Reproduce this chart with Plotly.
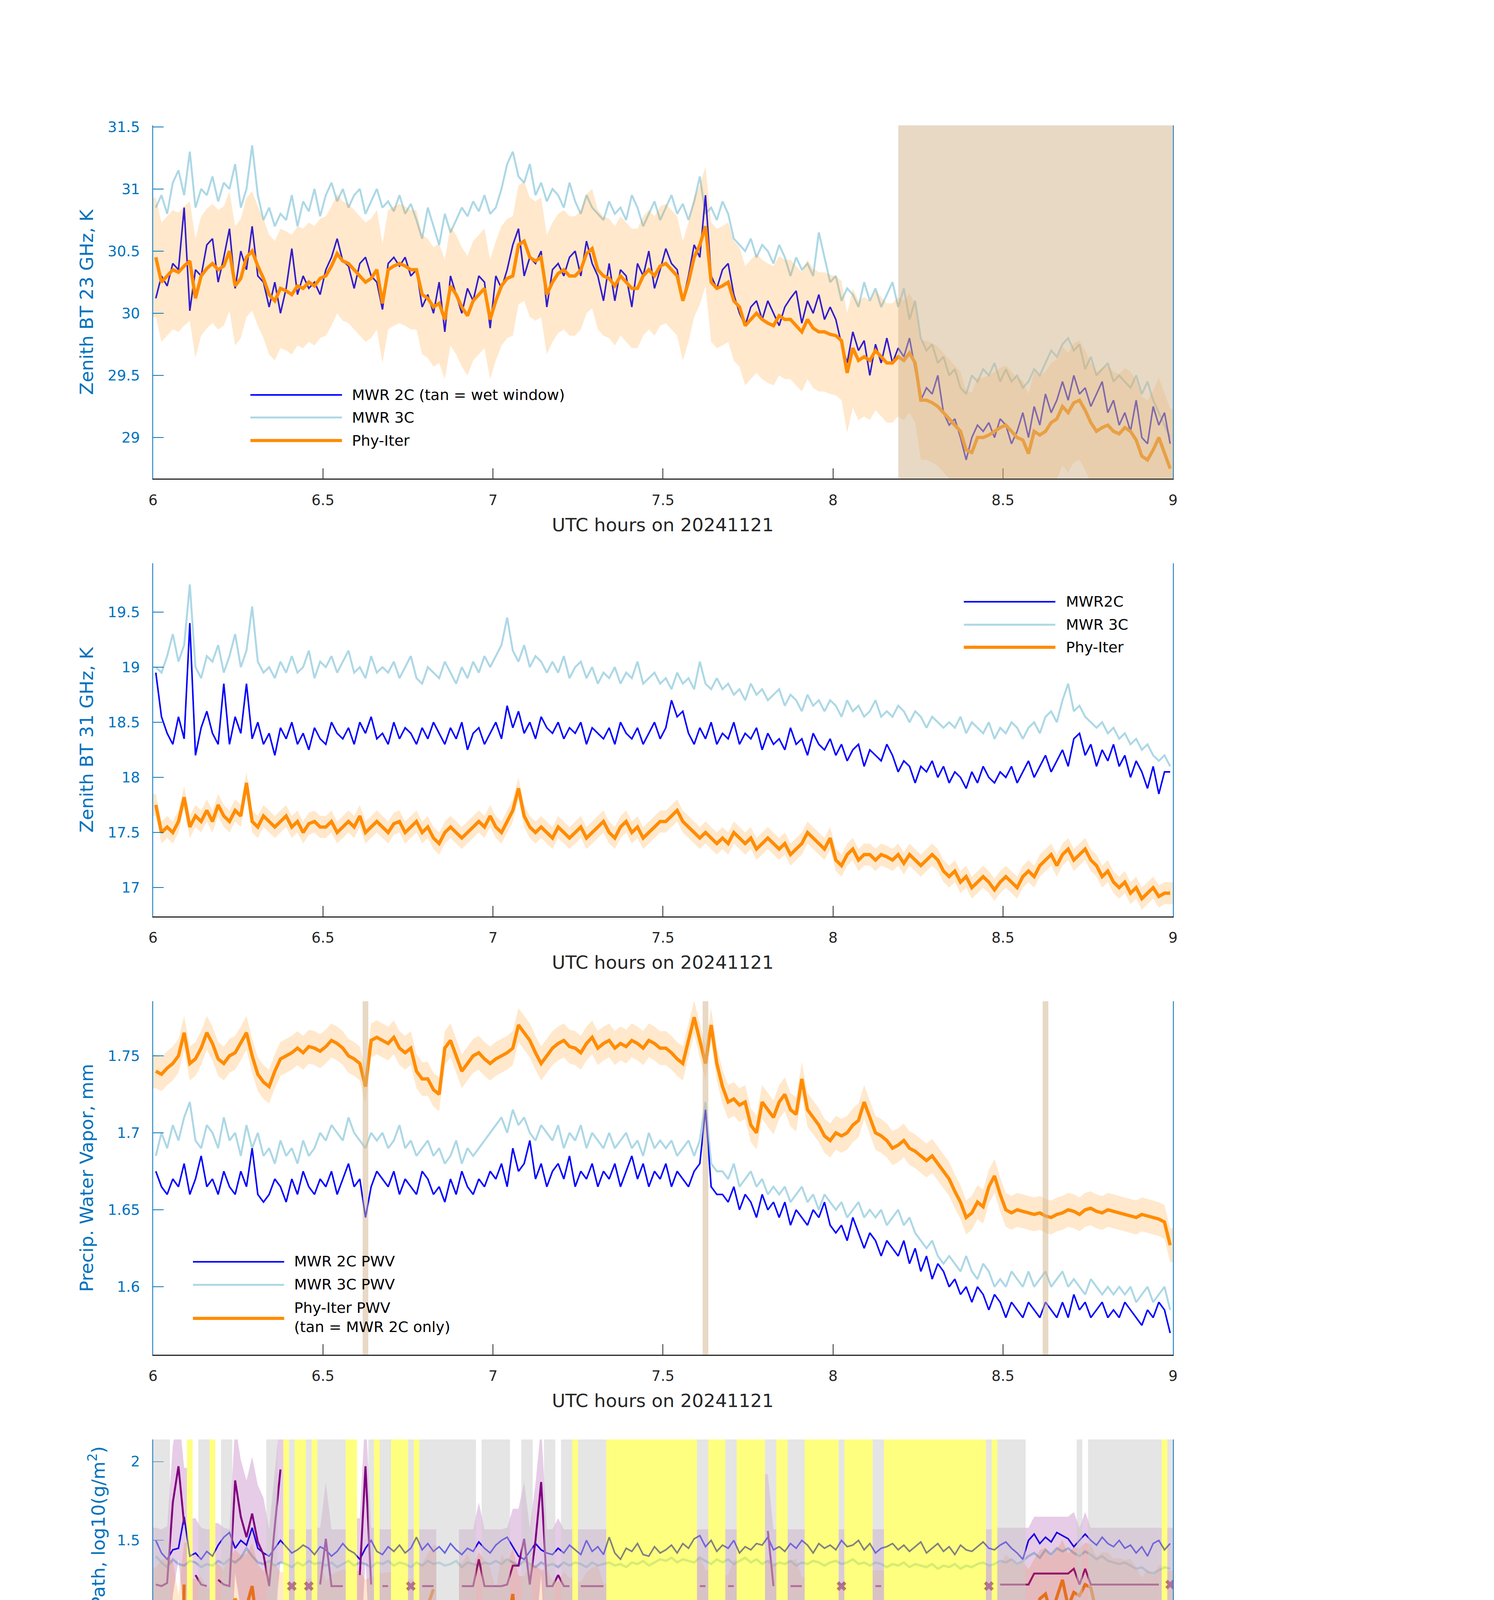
import numpy as np
import plotly.graph_objects as go

W, H = 3825, 6000

# one-minute bins 06:00-09:00 UTC on 20241121, stamped at the bin centre
t_min = 6 + (np.arange(180) + 0.5) / 60

# ---- panel 1: zenith BT 23 GHz (K)
bt23_mwr2c = [
    30.12, 30.3, 30.22, 30.4, 30.35, 30.85, 30.02, 30.35, 30.3, 30.55,
    30.6, 30.25, 30.45, 30.68, 30.2, 30.5, 30.35, 30.7, 30.3, 30.25,
    30.05, 30.25, 30.0, 30.2, 30.52, 30.15, 30.3, 30.2, 30.25, 30.15,
    30.35, 30.45, 30.6, 30.42, 30.38, 30.2, 30.4, 30.45, 30.3, 30.25,
    30.03, 30.4, 30.45, 30.38, 30.45, 30.3, 30.35, 30.05, 30.15, 30.0,
    30.25, 29.85, 30.3, 30.15, 30.0, 30.2, 30.1, 30.3, 30.25, 29.88,
    30.3, 30.2, 30.35, 30.55, 30.68, 30.3, 30.45, 30.4, 30.5, 30.05,
    30.35, 30.4, 30.3, 30.45, 30.5, 30.3, 30.58, 30.4, 30.3, 30.1,
    30.4, 30.1, 30.35, 30.3, 30.05, 30.4, 30.3, 30.5, 30.2, 30.35,
    30.52, 30.4, 30.35, 30.1, 30.3, 30.55, 30.45, 30.95, 30.3, 30.2,
    30.35, 30.4, 30.15, 30.0, 29.9, 30.05, 30.1, 29.95, 30.1, 30.0,
    29.9, 30.05, 30.12, 30.18, 29.92, 30.1, 30.0, 30.15, 29.95, 30.05,
    29.95, 29.75, 29.6, 29.85, 29.7, 29.78, 29.5, 29.75, 29.6, 29.8,
    29.6, 29.72, 29.65, 29.8, 29.55, 29.3, 29.4, 29.35, 29.5, 29.2,
    29.1, 29.15, 29.0, 28.82, 29.0, 29.1, 29.05, 29.12, 29.0, 29.15,
    29.1, 28.95, 29.05, 29.2, 29.0, 29.25, 29.1, 29.35, 29.2, 29.3,
    29.45, 29.3, 29.5, 29.35, 29.4, 29.25, 29.35, 29.45, 29.2, 29.3,
    29.1, 29.2, 29.05, 29.3, 29.0, 28.95, 29.25, 29.1, 29.2, 28.95,
]
bt23_mwr3c = [
    30.85, 30.95, 30.8, 31.05, 31.15, 30.95, 31.3, 30.85, 31.0, 30.95,
    31.1, 30.9, 31.05, 31.0, 31.2, 30.85, 31.0, 31.35, 30.95, 30.75,
    30.85, 30.7, 30.8, 30.75, 30.95, 30.7, 30.9, 30.82, 31.0, 30.78,
    30.95, 31.05, 30.9, 31.0, 30.85, 30.95, 31.0, 30.8, 30.9, 31.0,
    30.85, 30.9, 30.82, 30.95, 30.8, 30.88, 30.75, 30.6, 30.85, 30.7,
    30.55, 30.8, 30.65, 30.75, 30.85, 30.78, 30.9, 30.82, 30.95, 30.8,
    30.85, 31.0, 31.2, 31.3, 31.1, 31.05, 31.2, 30.95, 31.05, 30.9,
    31.0, 30.95, 30.85, 31.05, 30.9, 30.8, 30.95, 30.85, 30.8, 30.75,
    30.9, 30.8, 30.85, 30.75, 30.95, 30.85, 30.7, 30.8, 30.9, 30.75,
    30.85, 30.95, 30.8, 30.88, 30.75, 30.9, 31.1, 30.8, 30.85, 30.75,
    30.9, 30.8, 30.6, 30.55, 30.5, 30.6, 30.45, 30.55, 30.5, 30.4,
    30.55, 30.45, 30.3, 30.45, 30.35, 30.4, 30.3, 30.65, 30.45, 30.25,
    30.3, 30.1, 30.2, 30.15, 30.05, 30.25, 30.1, 30.2, 30.05, 30.15,
    30.25, 30.05, 30.2, 29.95, 30.1, 29.8, 29.7, 29.75, 29.6, 29.65,
    29.5, 29.55, 29.4, 29.35, 29.5, 29.45, 29.55, 29.5, 29.6, 29.45,
    29.55, 29.45, 29.5, 29.4, 29.45, 29.55, 29.5, 29.6, 29.7, 29.65,
    29.75, 29.8, 29.7, 29.75, 29.55, 29.65, 29.5, 29.55, 29.6, 29.45,
    29.5, 29.45, 29.4, 29.5, 29.35, 29.45, 29.3, 29.2, 29.1, 29.0,
]
bt23_phy = [
    30.45, 30.25, 30.3, 30.35, 30.33, 30.38, 30.42, 30.12, 30.3, 30.36,
    30.4, 30.35, 30.38, 30.5, 30.22, 30.28, 30.45, 30.5, 30.38, 30.28,
    30.15, 30.1, 30.2, 30.18, 30.15, 30.22, 30.2, 30.25, 30.22, 30.28,
    30.3, 30.38, 30.48, 30.42, 30.4, 30.35, 30.3, 30.25, 30.28, 30.35,
    30.08, 30.35, 30.38, 30.4, 30.38, 30.35, 30.35, 30.15, 30.12, 30.05,
    30.08, 29.95, 30.22, 30.15, 30.05, 29.98, 30.1, 30.15, 30.2, 29.95,
    30.1, 30.22, 30.28, 30.3, 30.55, 30.58, 30.45, 30.42, 30.45, 30.15,
    30.25, 30.32, 30.35, 30.3, 30.3, 30.35, 30.48, 30.52, 30.35, 30.3,
    30.28, 30.22, 30.3, 30.25, 30.2, 30.2, 30.3, 30.35, 30.3, 30.38,
    30.4, 30.35, 30.3, 30.1, 30.25, 30.45, 30.55, 30.7, 30.25, 30.2,
    30.22, 30.25, 30.1, 30.05, 29.9, 29.95, 30.0, 29.95, 29.92, 29.9,
    29.98, 29.95, 29.95, 29.9, 29.85, 29.95, 29.88, 29.85, 29.85, 29.83,
    29.82, 29.78, 29.52, 29.72, 29.62, 29.65, 29.62, 29.7, 29.65, 29.6,
    29.6, 29.65, 29.62, 29.68, 29.6, 29.3, 29.3, 29.28, 29.25, 29.2,
    29.15, 29.1, 29.05, 28.9, 28.88, 29.0, 29.0, 29.02, 29.05, 29.08,
    29.1, 29.05, 29.0, 28.98, 28.87, 29.05, 29.02, 29.05, 29.12, 29.15,
    29.25, 29.2, 29.28, 29.3, 29.22, 29.12, 29.05, 29.08, 29.1, 29.05,
    29.03, 29.08, 29.05, 28.98, 28.85, 28.82, 28.9, 29.0, 28.88, 28.75,
]
bt23_err = 0.48
wet_start, wet_end = 8.192, 9.008

# ---- panel 2: zenith BT 31 GHz (K)
bt31_mwr2c = [
    18.95, 18.55, 18.4, 18.3, 18.55, 18.35, 19.4, 18.2, 18.45, 18.6,
    18.4, 18.3, 18.85, 18.3, 18.55, 18.4, 18.85, 18.35, 18.5, 18.3,
    18.4, 18.2, 18.45, 18.35, 18.5, 18.3, 18.4, 18.25, 18.45, 18.35,
    18.3, 18.5, 18.4, 18.35, 18.45, 18.3, 18.5, 18.4, 18.55, 18.35,
    18.4, 18.3, 18.5, 18.35, 18.45, 18.4, 18.3, 18.45, 18.35, 18.5,
    18.4, 18.3, 18.45, 18.35, 18.5, 18.25, 18.4, 18.45, 18.3, 18.4,
    18.5, 18.35, 18.65, 18.45, 18.6, 18.4, 18.5, 18.35, 18.55, 18.45,
    18.4, 18.5, 18.35, 18.45, 18.4, 18.5, 18.3, 18.45, 18.4, 18.35,
    18.45, 18.3, 18.5, 18.4, 18.35, 18.45, 18.3, 18.4, 18.5, 18.35,
    18.45, 18.7, 18.55, 18.6, 18.4, 18.3, 18.45, 18.35, 18.5, 18.3,
    18.4, 18.35, 18.5, 18.3, 18.4, 18.35, 18.45, 18.25, 18.4, 18.3,
    18.35, 18.25, 18.45, 18.3, 18.35, 18.2, 18.4, 18.3, 18.25, 18.35,
    18.2, 18.3, 18.15, 18.25, 18.3, 18.1, 18.25, 18.2, 18.15, 18.3,
    18.2, 18.05, 18.15, 18.1, 17.95, 18.1, 18.05, 18.15, 18.0, 18.1,
    17.95, 18.05, 18.0, 17.9, 18.05, 17.95, 18.1, 18.0, 17.95, 18.05,
    18.0, 18.1, 17.95, 18.05, 18.15, 18.0, 18.1, 18.2, 18.05, 18.15,
    18.25, 18.1, 18.35, 18.4, 18.2, 18.3, 18.1, 18.25, 18.15, 18.3,
    18.1, 18.2, 18.0, 18.15, 18.05, 17.9, 18.1, 17.85, 18.05, 18.05,
]
bt31_mwr3c = [
    19.0, 18.95, 19.1, 19.3, 19.05, 19.2, 19.75, 19.0, 18.9, 19.1,
    19.05, 19.2, 18.95, 19.1, 19.3, 19.0, 19.15, 19.55, 19.05, 18.95,
    19.0, 18.9, 19.05, 18.95, 19.1, 18.95, 19.0, 19.15, 18.9, 19.05,
    19.0, 19.1, 18.95, 19.05, 19.15, 18.95, 19.0, 18.9, 19.1, 18.95,
    19.0, 18.95, 19.05, 18.9, 19.0, 19.1, 18.9, 18.85, 19.0, 18.95,
    18.9, 19.05, 18.95, 18.85, 19.0, 18.9, 19.05, 18.95, 19.1, 19.0,
    19.1, 19.2, 19.45, 19.15, 19.05, 19.2, 19.0, 19.1, 19.05, 18.95,
    19.05, 18.95, 19.1, 18.9, 19.0, 19.05, 18.9, 19.0, 18.85, 18.95,
    18.9, 19.0, 18.85, 18.95, 18.9, 19.05, 18.85, 18.9, 18.95, 18.85,
    18.9, 18.8, 18.95, 18.85, 18.9, 18.8, 19.05, 18.85, 18.8, 18.9,
    18.8, 18.85, 18.75, 18.8, 18.7, 18.85, 18.75, 18.8, 18.7, 18.75,
    18.8, 18.65, 18.75, 18.7, 18.6, 18.75, 18.65, 18.7, 18.6, 18.7,
    18.65, 18.55, 18.7, 18.6, 18.65, 18.55, 18.6, 18.7, 18.55, 18.6,
    18.55, 18.65, 18.6, 18.5, 18.6, 18.55, 18.45, 18.55, 18.5, 18.45,
    18.5, 18.45, 18.55, 18.4, 18.5, 18.45, 18.4, 18.5, 18.35, 18.45,
    18.4, 18.5, 18.45, 18.35, 18.45, 18.5, 18.4, 18.55, 18.6, 18.5,
    18.7, 18.85, 18.6, 18.65, 18.55, 18.5, 18.45, 18.5, 18.4, 18.45,
    18.35, 18.4, 18.3, 18.35, 18.25, 18.3, 18.2, 18.15, 18.2, 18.1,
]
bt31_phy = [
    17.75, 17.5, 17.55, 17.5, 17.6, 17.82, 17.55, 17.65, 17.6, 17.7,
    17.6, 17.75, 17.65, 17.6, 17.7, 17.65, 17.95, 17.6, 17.55, 17.65,
    17.6, 17.55, 17.6, 17.65, 17.55, 17.6, 17.5, 17.58, 17.6, 17.55,
    17.55, 17.6, 17.5, 17.55, 17.6, 17.55, 17.65, 17.5, 17.55, 17.6,
    17.55, 17.5, 17.58, 17.6, 17.5, 17.55, 17.6, 17.5, 17.55, 17.45,
    17.4, 17.5, 17.55, 17.5, 17.45, 17.5, 17.55, 17.6, 17.55, 17.65,
    17.55, 17.5, 17.6, 17.7, 17.9, 17.65, 17.55, 17.5, 17.55, 17.5,
    17.45, 17.55, 17.5, 17.45, 17.5, 17.55, 17.45, 17.5, 17.55, 17.6,
    17.5, 17.45, 17.55, 17.6, 17.5, 17.55, 17.45, 17.5, 17.55, 17.6,
    17.6, 17.65, 17.7, 17.6, 17.55, 17.5, 17.45, 17.5, 17.45, 17.4,
    17.45, 17.4, 17.5, 17.45, 17.4, 17.45, 17.35, 17.4, 17.45, 17.4,
    17.35, 17.4, 17.3, 17.35, 17.4, 17.5, 17.45, 17.4, 17.35, 17.45,
    17.25, 17.2, 17.3, 17.35, 17.25, 17.3, 17.3, 17.25, 17.3, 17.28,
    17.25, 17.3, 17.22, 17.3, 17.25, 17.2, 17.25, 17.3, 17.25, 17.15,
    17.1, 17.15, 17.05, 17.1, 17.0, 17.05, 17.1, 17.05, 16.98, 17.05,
    17.1, 17.05, 17.0, 17.1, 17.15, 17.1, 17.2, 17.25, 17.3, 17.2,
    17.3, 17.35, 17.25, 17.3, 17.35, 17.25, 17.2, 17.1, 17.15, 17.05,
    17.0, 17.05, 16.95, 17.0, 16.9, 16.95, 17.0, 16.92, 16.95, 16.95,
]
bt31_err = 0.1

# ---- panel 3: precipitable water vapour (mm)
pwv_mwr2c = [
    1.675, 1.665, 1.66, 1.67, 1.665, 1.68, 1.66, 1.67, 1.685, 1.665,
    1.67, 1.66, 1.675, 1.665, 1.66, 1.675, 1.665, 1.69, 1.66, 1.655,
    1.66, 1.67, 1.665, 1.655, 1.67, 1.66, 1.675, 1.665, 1.66, 1.67,
    1.665, 1.675, 1.66, 1.67, 1.68, 1.665, 1.67, 1.645, 1.665, 1.675,
    1.67, 1.665, 1.675, 1.66, 1.67, 1.665, 1.66, 1.675, 1.67, 1.66,
    1.665, 1.655, 1.67, 1.66, 1.675, 1.665, 1.66, 1.67, 1.665, 1.675,
    1.67, 1.68, 1.665, 1.69, 1.675, 1.68, 1.695, 1.67, 1.68, 1.665,
    1.675, 1.68, 1.67, 1.685, 1.665, 1.675, 1.67, 1.68, 1.665, 1.675,
    1.67, 1.68, 1.665, 1.675, 1.685, 1.67, 1.68, 1.665, 1.675, 1.67,
    1.68, 1.665, 1.675, 1.67, 1.665, 1.675, 1.68, 1.715, 1.665, 1.66,
    1.66, 1.655, 1.665, 1.65, 1.66, 1.655, 1.645, 1.66, 1.65, 1.655,
    1.645, 1.655, 1.64, 1.65, 1.645, 1.64, 1.65, 1.645, 1.655, 1.64,
    1.635, 1.64, 1.63, 1.645, 1.635, 1.625, 1.635, 1.63, 1.62, 1.63,
    1.625, 1.62, 1.63, 1.615, 1.625, 1.61, 1.62, 1.605, 1.615, 1.61,
    1.6, 1.605, 1.595, 1.6, 1.59, 1.6, 1.595, 1.585, 1.595, 1.59,
    1.58, 1.59, 1.585, 1.58, 1.59, 1.585, 1.58, 1.59, 1.585, 1.58,
    1.59, 1.58, 1.595, 1.585, 1.59, 1.58, 1.585, 1.59, 1.58, 1.585,
    1.58, 1.59, 1.585, 1.58, 1.575, 1.585, 1.58, 1.59, 1.585, 1.57,
]
pwv_mwr3c = [
    1.685, 1.7, 1.69, 1.705, 1.695, 1.71, 1.72, 1.695, 1.69, 1.705,
    1.7, 1.69, 1.71, 1.695, 1.7, 1.685, 1.705, 1.69, 1.7, 1.685,
    1.69, 1.68, 1.695, 1.685, 1.69, 1.68, 1.695, 1.685, 1.69, 1.7,
    1.695, 1.705, 1.7, 1.695, 1.71, 1.7, 1.695, 1.69, 1.7, 1.695,
    1.7, 1.69, 1.695, 1.705, 1.69, 1.695, 1.685, 1.69, 1.695, 1.685,
    1.69, 1.68, 1.685, 1.695, 1.68, 1.69, 1.685, 1.69, 1.695, 1.7,
    1.705, 1.71, 1.7, 1.715, 1.705, 1.71, 1.7, 1.695, 1.705, 1.7,
    1.695, 1.705, 1.69, 1.7, 1.695, 1.705, 1.69, 1.7, 1.695, 1.69,
    1.7, 1.69, 1.695, 1.7, 1.69, 1.695, 1.685, 1.7, 1.69, 1.695,
    1.69, 1.695, 1.685, 1.69, 1.695, 1.685, 1.695, 1.72, 1.68, 1.675,
    1.675, 1.67, 1.68, 1.665, 1.67, 1.675, 1.665, 1.67, 1.66, 1.665,
    1.66, 1.665, 1.655, 1.66, 1.665, 1.655, 1.66, 1.65, 1.66, 1.655,
    1.65, 1.655, 1.645, 1.65, 1.655, 1.645, 1.65, 1.645, 1.65, 1.64,
    1.645, 1.65, 1.64, 1.645, 1.635, 1.63, 1.625, 1.63, 1.62, 1.615,
    1.62, 1.615, 1.61, 1.62, 1.61, 1.605, 1.615, 1.61, 1.6, 1.605,
    1.6, 1.61, 1.605, 1.6, 1.61, 1.6, 1.605, 1.61, 1.6, 1.605,
    1.61, 1.6, 1.605, 1.6, 1.595, 1.605, 1.6, 1.595, 1.6, 1.595,
    1.6, 1.595, 1.6, 1.59, 1.595, 1.6, 1.59, 1.595, 1.6, 1.585,
]
pwv_phy = [
    1.74, 1.738, 1.742, 1.745, 1.75, 1.765, 1.745, 1.748, 1.755, 1.765,
    1.758, 1.748, 1.745, 1.75, 1.752, 1.758, 1.765, 1.75, 1.738, 1.733,
    1.73, 1.74, 1.748, 1.75, 1.752, 1.755, 1.752, 1.756, 1.755, 1.753,
    1.756, 1.76, 1.758, 1.755, 1.75, 1.748, 1.745, 1.73, 1.76, 1.762,
    1.76, 1.758, 1.762, 1.755, 1.752, 1.755, 1.74, 1.735, 1.735, 1.728,
    1.725, 1.755, 1.76, 1.75, 1.74, 1.745, 1.75, 1.752, 1.748, 1.745,
    1.748, 1.75, 1.752, 1.755, 1.77, 1.765, 1.76, 1.752, 1.745, 1.75,
    1.755, 1.758, 1.76, 1.756, 1.755, 1.752, 1.758, 1.762, 1.755, 1.758,
    1.76, 1.755, 1.758, 1.756, 1.76, 1.758, 1.755, 1.76, 1.758, 1.755,
    1.755, 1.752, 1.748, 1.745, 1.76, 1.775, 1.76, 1.745, 1.77, 1.745,
    1.73, 1.72, 1.722, 1.718, 1.72, 1.705, 1.7, 1.72, 1.715, 1.71,
    1.72, 1.725, 1.715, 1.712, 1.735, 1.715, 1.71, 1.705, 1.698, 1.695,
    1.7, 1.698, 1.7, 1.705, 1.708, 1.72, 1.71, 1.7, 1.698, 1.695,
    1.69, 1.692, 1.695, 1.69, 1.688, 1.685, 1.682, 1.685, 1.68, 1.675,
    1.67, 1.662, 1.655, 1.645, 1.648, 1.655, 1.652, 1.665, 1.672, 1.66,
    1.65, 1.648, 1.65, 1.649, 1.648, 1.647, 1.648, 1.646, 1.645, 1.647,
    1.648, 1.65, 1.649, 1.647, 1.65, 1.651, 1.649, 1.648, 1.65, 1.649,
    1.648, 1.647, 1.646, 1.645, 1.647, 1.646, 1.645, 1.644, 1.642, 1.627,
]
pwv_err = 0.011
mwr2c_only_min = [37, 97, 157]

# ---- panel 4: log10 liquid water path, log10(g/m2)
lwp_mwr2c = [
    1.5, 1.42, 1.38, 1.44, 1.45, 1.65, 1.4, 1.42, 1.38, 1.43,
    1.4, 1.47, 1.52, 1.55, 1.45, 1.5, 1.47, 1.58, 1.45, 1.42,
    1.4, 1.45, 1.5, 1.46, 1.42, 1.44, 1.47, 1.45, 1.41, 1.46,
    1.44, 1.4, 1.43, 1.48, 1.44, 1.42, 1.38, 1.45, 1.5, 1.43,
    1.41, 1.46, 1.43, 1.47, 1.42, 1.45, 1.52, 1.44, 1.48, 1.43,
    1.46, 1.42, 1.48, 1.44, 1.41, 1.45, 1.43, 1.49, 1.45, 1.42,
    1.47, 1.5, 1.52, 1.46, 1.4, 1.38, 1.43, 1.48, 1.44, 1.42,
    1.41, 1.45, 1.42, 1.47, 1.44, 1.41, 1.5, 1.43, 1.46, 1.41,
    1.52, 1.42, 1.38, 1.45, 1.43, 1.48, 1.41, 1.4, 1.46, 1.42,
    1.44, 1.47, 1.42, 1.48, 1.45, 1.51, 1.53, 1.46, 1.5, 1.43,
    1.47, 1.45, 1.5, 1.42, 1.46, 1.44, 1.48, 1.47, 1.52, 1.44,
    1.46, 1.43, 1.48, 1.45, 1.5, 1.47, 1.42, 1.48, 1.45, 1.47,
    1.44, 1.5, 1.46, 1.47, 1.5, 1.44, 1.48, 1.42, 1.45, 1.46,
    1.48, 1.44, 1.47, 1.43, 1.46, 1.49, 1.42, 1.45, 1.48, 1.43,
    1.46, 1.41, 1.47, 1.44, 1.43, 1.46, 1.49, 1.45, 1.44, 1.47,
    1.49, 1.45, 1.42, 1.38, 1.5, 1.54, 1.48, 1.52, 1.49, 1.55,
    1.53, 1.51, 1.46, 1.5, 1.54, 1.5, 1.47, 1.52, 1.48, 1.46,
    1.5, 1.45, 1.47, 1.42, 1.46, 1.4, 1.48, 1.5, 1.44, 1.48,
]
lwp_mwr3c = [
    1.4, 1.36, 1.33, 1.38, 1.35, 1.34, 1.37, 1.36, 1.33, 1.35,
    1.34, 1.37, 1.35, 1.38, 1.36, 1.39, 1.45, 1.4, 1.36, 1.35,
    1.37, 1.34, 1.36, 1.35, 1.33, 1.36, 1.34, 1.37, 1.35, 1.36,
    1.34, 1.36, 1.33, 1.35, 1.37, 1.34, 1.36, 1.35, 1.33, 1.36,
    1.35, 1.37, 1.34, 1.36, 1.35, 1.33, 1.36, 1.34, 1.37, 1.35,
    1.36, 1.34, 1.35, 1.37, 1.33, 1.36, 1.35, 1.34, 1.36, 1.35,
    1.37, 1.35, 1.38, 1.36, 1.34, 1.37, 1.35, 1.33, 1.36, 1.34,
    1.35, 1.33, 1.36, 1.34, 1.36, 1.35, 1.33, 1.36, 1.34, 1.35,
    1.36, 1.34, 1.35, 1.33, 1.36, 1.35, 1.37, 1.34, 1.36, 1.38,
    1.37, 1.39, 1.36, 1.38, 1.37, 1.36, 1.39, 1.37, 1.35, 1.38,
    1.36, 1.38, 1.35, 1.37, 1.39, 1.36, 1.38, 1.35, 1.37, 1.34,
    1.36, 1.35, 1.37, 1.34, 1.36, 1.35, 1.37, 1.36, 1.34, 1.36,
    1.37, 1.35, 1.36, 1.38, 1.35, 1.36, 1.34, 1.36, 1.35, 1.33,
    1.35, 1.34, 1.36, 1.33, 1.35, 1.34, 1.33, 1.35, 1.32, 1.34,
    1.33, 1.35, 1.32, 1.34, 1.33, 1.35, 1.36, 1.34, 1.35, 1.37,
    1.36, 1.38, 1.35, 1.37, 1.4, 1.42, 1.39, 1.44, 1.41, 1.45,
    1.43, 1.45, 1.42, 1.4, 1.43, 1.41, 1.38, 1.4, 1.37, 1.36,
    1.35, 1.36, 1.34, 1.32, 1.33, 1.3, 1.29, 1.31, 1.33, 1.32,
]
N = None
lwp_phy = [
    0.86, 0.99, 1.03, 0.97, -0.6, 1.22, N, 0.61, 0.66, 0.25,
    N, 0.93, 0.82, 1.03, 1.13, 1.06, 1.08, 1.21, 0.92, 0.78,
    0.99, 0.92, 0.77, N, 0.51, N, N, 0.61, N, 0.95,
    0.54, 0.71, 0.78, 0.82, N, N, 0.8, 0.57, 0.68, N,
    0.75, 0.77, N, N, N, 0.6, N, 0.93, 1.09, 1.19,
    N, N, N, N, 0.94, 1.07, 0.89, 1.1, 0.99, 0.86,
    0.11, 1.08, 0.95, 1.16, 0.69, 0.67, 0.93, 0.9, 0.81, 0.83,
    0.56, 0.51, 0.78, 0.63, N, 0.51, 0.77, 0.86, 0.9, 0.45,
    N, N, N, N, N, N, N, N, N, N,
    N, N, N, N, N, N, 1.04, 0.81, N, N,
    N, 0.71, 0.99, N, N, N, N, N, 0.98, 0.95,
    N, N, 0.98, 1.01, 0.65, N, N, N, N, N,
    N, 0.41, N, N, N, N, N, 0.81, 0.81, N,
    N, N, N, N, N, N, N, N, N, N,
    N, N, N, N, N, N, N, 0.88, N, 0.93,
    1.07, 0.99, 0.89, 0.97, 0.83, 1.0, 1.13, 1.16, 1.03, 1.14,
    1.25, 1.08, 1.17, 1.15, 1.22, 1.2, 1.04, 1.1, 1.1, 1.01,
    1.02, 0.99, 1.01, 0.86, 0.64, 0.83, 0.68, 0.91, N, 0.8,
]
lwp_adi = [
    1.22, 1.21, 1.23, 1.74, 1.97, 1.6, N, 1.28, 1.22, 1.21,
    N, 1.25, 1.22, 1.21, 1.88, 1.65, 1.52, 1.67, 1.49, 1.41,
    1.21, 1.59, 1.95, N, 1.21, N, N, 1.21, N, 1.22,
    1.51, 1.21, 1.21, 1.21, N, N, 1.28, 1.97, 1.22, N,
    1.21, 1.21, N, N, N, 1.21, N, 1.21, 1.21, 1.21,
    N, N, N, N, 1.21, 1.21, 1.21, 1.38, 1.21, 1.21,
    1.21, 1.21, 1.22, 1.34, 1.34, 1.51, 1.22, 1.5, 1.87, 1.21,
    1.21, 1.28, 1.21, 1.21, N, 1.21, 1.21, 1.21, 1.21, 1.21,
    N, N, N, N, N, N, N, N, N, N,
    N, N, N, N, N, N, 1.21, 1.21, N, N,
    N, 1.21, 1.21, N, N, N, N, N, 1.56, 1.21,
    N, N, 1.21, 1.21, 1.21, N, N, N, N, N,
    N, 1.21, N, N, N, N, N, 1.21, 1.21, N,
    N, N, N, N, N, N, N, N, N, N,
    N, N, N, N, N, N, N, 1.21, N, 1.22,
    1.22, 1.22, 1.22, 1.22, 1.22, 1.29, 1.29, 1.29, 1.29, 1.29,
    1.29, 1.29, 1.32, 1.22, 1.32, 1.22, 1.22, 1.22, 1.22, 1.22,
    1.22, 1.22, 1.22, 1.22, 1.22, 1.22, 1.22, 1.22, N, 1.22,
]
lwp_phy_err = 14.0          # g/m2
adi_err_hi, adi_err_lo = 0.36, 0.59

# ---- panel 5: Phy-Iter data quality flag per minute
dq_flag = [
    4, 4, 4, 0, 0, 0, 5, 0, 4, 4,
    5, 0, 4, 4, 0, 0, 0, 0, 0, 0,
    4, 4, 0, 5, 4, 5, 5, 4, 5, 4,
    4, 4, 4, 4, 5, 5, 0, 0, 4, 5,
    4, 4, 5, 5, 5, 4, 5, 4, 4, 4,
    3, 4, 4, 4, 4, 4, 4, 0, 4, 4,
    4, 4, 4, 0, 0, 4, 4, 0, 0, 4,
    4, 0, 4, 4, 5, 4, 4, 4, 4, 4,
    5, 5, 5, 5, 5, 5, 5, 5, 5, 5,
    5, 5, 5, 5, 5, 5, 4, 4, 5, 5,
    5, 4, 4, 5, 5, 5, 5, 5, 3, 4,
    5, 5, 4, 4, 4, 5, 5, 5, 5, 5,
    5, 4, 5, 5, 5, 5, 5, 3, 4, 5,
    5, 5, 5, 5, 5, 5, 5, 5, 5, 5,
    5, 5, 5, 5, 5, 5, 5, 4, 5, 4,
    4, 4, 4, 4, 0, 0, 0, 0, 0, 0,
    0, 0, 0, 4, 0, 4, 4, 4, 4, 4,
    4, 4, 4, 4, 4, 4, 4, 4, 5, 4,
]

BLUE, LBLUE, ORANGE, PURPLE = "#0000FF", "#ADD8E6", "#FF8C00", "#800080"
AXBLUE, DARK = "#0072BD", "#262626"
BAND_OR = "rgba(255,140,0,0.2)"
BAND_PU = "rgba(128,0,128,0.2)"
FONT = "DejaVu Sans"

# panel placement in page pixels
TOPS = [296, 1420, 2545, 3670, 4795]
PANEL_H = 907


def band_poly(lo, hi):
    # closed polygons, one per run of valid minutes, edges on the minute bins
    lo = np.asarray(lo, dtype=float)
    hi = np.asarray(hi, dtype=float)
    ok = ~np.isnan(lo) & ~np.isnan(hi)
    xs, ys = [], []
    j = 0
    while j < len(ok):
        if not ok[j]:
            j += 1
            continue
        k = j
        while k + 1 < len(ok) and ok[k + 1]:
            k += 1
        xe = [6 + j / 60] + list(t_min[j:k + 1]) + [6 + (k + 1) / 60]
        up = [hi[j]] + list(hi[j:k + 1]) + [hi[k]]
        dn = [lo[j]] + list(lo[j:k + 1]) + [lo[k]]
        xs += xe + xe[::-1] + [None]
        ys += up + dn[::-1] + [None]
        j = k + 1
    return xs, ys


fig = go.Figure()


def line(y, color, width, ax):
    fig.add_trace(go.Scatter(x=t_min, y=y, mode="lines", xaxis="x" + ax, yaxis="y" + ax,
                             line=dict(color=color, width=width), hoverinfo="skip"))


def band(lo, hi, color, ax):
    bx, by = band_poly(lo, hi)
    fig.add_trace(go.Scatter(x=bx, y=by, mode="lines", fill="toself", fillcolor=color,
                             line=dict(width=0), xaxis="x" + ax, yaxis="y" + ax, hoverinfo="skip"))


# panels 1-3
for ax, m3, m2, ph, err in [("", bt23_mwr3c, bt23_mwr2c, bt23_phy, bt23_err),
                            ("2", bt31_mwr3c, bt31_mwr2c, bt31_phy, bt31_err),
                            ("3", pwv_mwr3c, pwv_mwr2c, pwv_phy, pwv_err)]:
    line(m3, LBLUE, 5, ax)
    line(m2, BLUE, 4, ax)
    line(ph, ORANGE, 8.5, ax)
    p = np.array(ph)
    band(p - err, p + err, BAND_OR, ax)

# panel 4
phy = np.array(lwp_phy, dtype=float)
adi = np.array(lwp_adi, dtype=float)
line(lwp_mwr3c, LBLUE, 6, "4")
line(lwp_mwr2c, BLUE, 4, "4")
line(lwp_phy, ORANGE, 8, "4")
line(lwp_adi, PURPLE, 5, "4")
for arr, col in [(phy, ORANGE), (adi, PURPLE)]:
    ok = ~np.isnan(arr)
    prev_ok = np.r_[False, ok[:-1]]
    next_ok = np.r_[ok[1:], False]
    lone = ok & ~prev_ok & ~next_ok
    fig.add_trace(go.Scatter(x=t_min[lone], y=arr[lone], mode="markers", xaxis="x4", yaxis="y4",
                             marker=dict(symbol="x", size=22, color=col, line=dict(width=0)),
                             hoverinfo="skip"))
lin = 10 ** phy
phy_hi = np.log10(lin + lwp_phy_err)
with np.errstate(invalid="ignore", divide="ignore"):
    phy_lo = np.where(lin - lwp_phy_err > 0.08, np.log10(np.abs(lin - lwp_phy_err)), -1.0)
phy_lo[np.isnan(phy)] = np.nan
band(phy_lo, phy_hi, BAND_OR, "4")
band(adi - adi_err_lo, adi + adi_err_hi, BAND_PU, "4")

# panel 5
fig.add_trace(go.Scatter(x=t_min, y=dq_flag, mode="markers", xaxis="x5", yaxis="y5",
                         marker=dict(size=10, color=ORANGE, line=dict(width=0)), hoverinfo="skip"))

# ---- axes
panels = [
    dict(rng=[28.669, 31.511], dtick=0.5, title="Zenith BT 23 GHz, K", tx=203),
    dict(rng=[16.739, 19.943], dtick=0.5, title="Zenith BT 31 GHz, K", tx=203),
    dict(rng=[1.556, 1.7854], dtick=0.05, title="Precip. Water Vapor, mm", tx=203),
    dict(rng=[-0.1, 2.14], dtick=0.5, title="log10 Liquid Water Path, log10(g/m<sup>2</sup>)", tx=230),
    dict(rng=[-0.5, 11.5], dtick=2, title="MWR Phy Iter DQ Flag", tx=240),
]
X0, X1 = 374, 3002
annotations = []
layout_axes = {}
for i, p in enumerate(panels):
    n = "" if i == 0 else str(i + 1)
    top, bot = TOPS[i], TOPS[i] + PANEL_H
    layout_axes["xaxis" + n] = dict(
        domain=[X0 / W, X1 / W], anchor="y" + n, range=[6, 9], dtick=0.5,
        showline=True, linecolor=DARK, linewidth=2.5, mirror=False,
        ticks="inside", ticklen=27, tickwidth=2, tickcolor=DARK, ticklabelstandoff=20,
        tickfont=dict(family=FONT, size=37, color=DARK), showgrid=False, zeroline=False)
    layout_axes["yaxis" + n] = dict(
        domain=[1 - bot / H, 1 - top / H], anchor="x" + n, range=p["rng"],
        dtick=p["dtick"], showline=True, linecolor=AXBLUE, linewidth=2, mirror=True,
        ticks="inside", ticklen=27, tickwidth=2, tickcolor=AXBLUE, ticklabelstandoff=24,
        tickfont=dict(family=FONT, size=37, color=AXBLUE), showgrid=False, zeroline=False)
    annotations.append(dict(x=p["tx"] / W, y=1 - (top + bot) / 2 / H, xref="paper", yref="paper",
                            text=p["title"], textangle=-90, showarrow=False, xanchor="center",
                            yanchor="middle", font=dict(family=FONT, size=47, color=AXBLUE)))
    annotations.append(dict(x=(X0 + X1) / 2 / W, y=1 - (bot + 118) / H, xref="paper", yref="paper",
                            text="UTC hours on 20241121", showarrow=False, xanchor="center",
                            yanchor="middle", font=dict(family=FONT, size=47, color=DARK)))

# ---- overlays (drawn above the data)
shapes = []
TAN = "rgba(210,180,140,0.5)"
shapes.append(dict(type="rect", xref="x", yref="y domain", x0=wet_start, x1=wet_end, y0=0, y1=1,
                   fillcolor=TAN, line=dict(width=0), layer="above"))
for j in mwr2c_only_min:
    shapes.append(dict(type="rect", xref="x3", yref="y3 domain", x0=6 + j / 60, x1=6 + (j + 1) / 60,
                       y0=0, y1=1, fillcolor=TAN, line=dict(width=0), layer="above"))
shade = {3: "rgba(204,204,204,0.5)", 4: "rgba(204,204,204,0.5)", 5: "rgba(255,255,0,0.5)"}
j = 0
while j < len(dq_flag):
    c = shade.get(dq_flag[j])
    k = j
    while k + 1 < len(dq_flag) and shade.get(dq_flag[k + 1]) == c:
        k += 1
    if c:
        shapes.append(dict(type="rect", xref="x4", yref="y4 domain", x0=6 + j / 60, x1=6 + (k + 1) / 60,
                           y0=0, y1=1, fillcolor=c, line=dict(width=0), layer="above"))
    j = k + 1


# ---- hand-drawn legends (long line samples), rows given from the panel top
def legend(panel, x0, x1, tx, rows):
    top = TOPS[panel]
    for ly, ty, label, col, wd in rows:
        shapes.append(dict(type="line", xref="paper", yref="paper", x0=x0 / W, x1=x1 / W,
                           y0=1 - (top + ly) / H, y1=1 - (top + ly) / H,
                           line=dict(color=col, width=wd), layer="above"))
        annotations.append(dict(x=tx / W, y=1 - (top + ty) / H, xref="paper", yref="paper", text=label,
                                showarrow=False, xanchor="left", yanchor="middle", align="left",
                                font=dict(family=FONT, size=38, color="#000000")))


legend(0, 625, 861, 885, [(692, 692, "MWR 2C (tan = wet window)", BLUE, 4),
                          (750, 750, "MWR 3C", LBLUE, 5),
                          (809, 809, "Phy-Iter", ORANGE, 8)])
legend(1, 2463, 2699, 2724, [(99, 99, "MWR2C", BLUE, 4),
                             (158, 158, "MWR 3C", LBLUE, 5),
                             (216, 216, "Phy-Iter", ORANGE, 8)])
legend(2, 477, 712, 736, [(669, 668, "MWR 2C PWV", BLUE, 4),
                          (728, 727, "MWR 3C PWV", LBLUE, 5),
                          (814, 812, "Phy-Iter PWV<br>(tan = MWR 2C only)", ORANGE, 8)])
legend(3, 2299, 2534, 2560, [(669, 669, "MWR 2C LWP", BLUE, 4),
                             (725, 725, "MWR 3C LWP", LBLUE, 5),
                             (784, 784, "Phy-Iter LWP", ORANGE, 8),
                             (841, 841, "Adiabatic LWP", PURPLE, 5)])

fig.update_layout(
    width=W, height=H, margin=dict(l=0, r=0, t=0, b=0),
    paper_bgcolor="white", plot_bgcolor="white", showlegend=False,
    font=dict(family=FONT, size=37, color=DARK),
    shapes=shapes, annotations=annotations, **layout_axes)

fig.write_html("out.html")
